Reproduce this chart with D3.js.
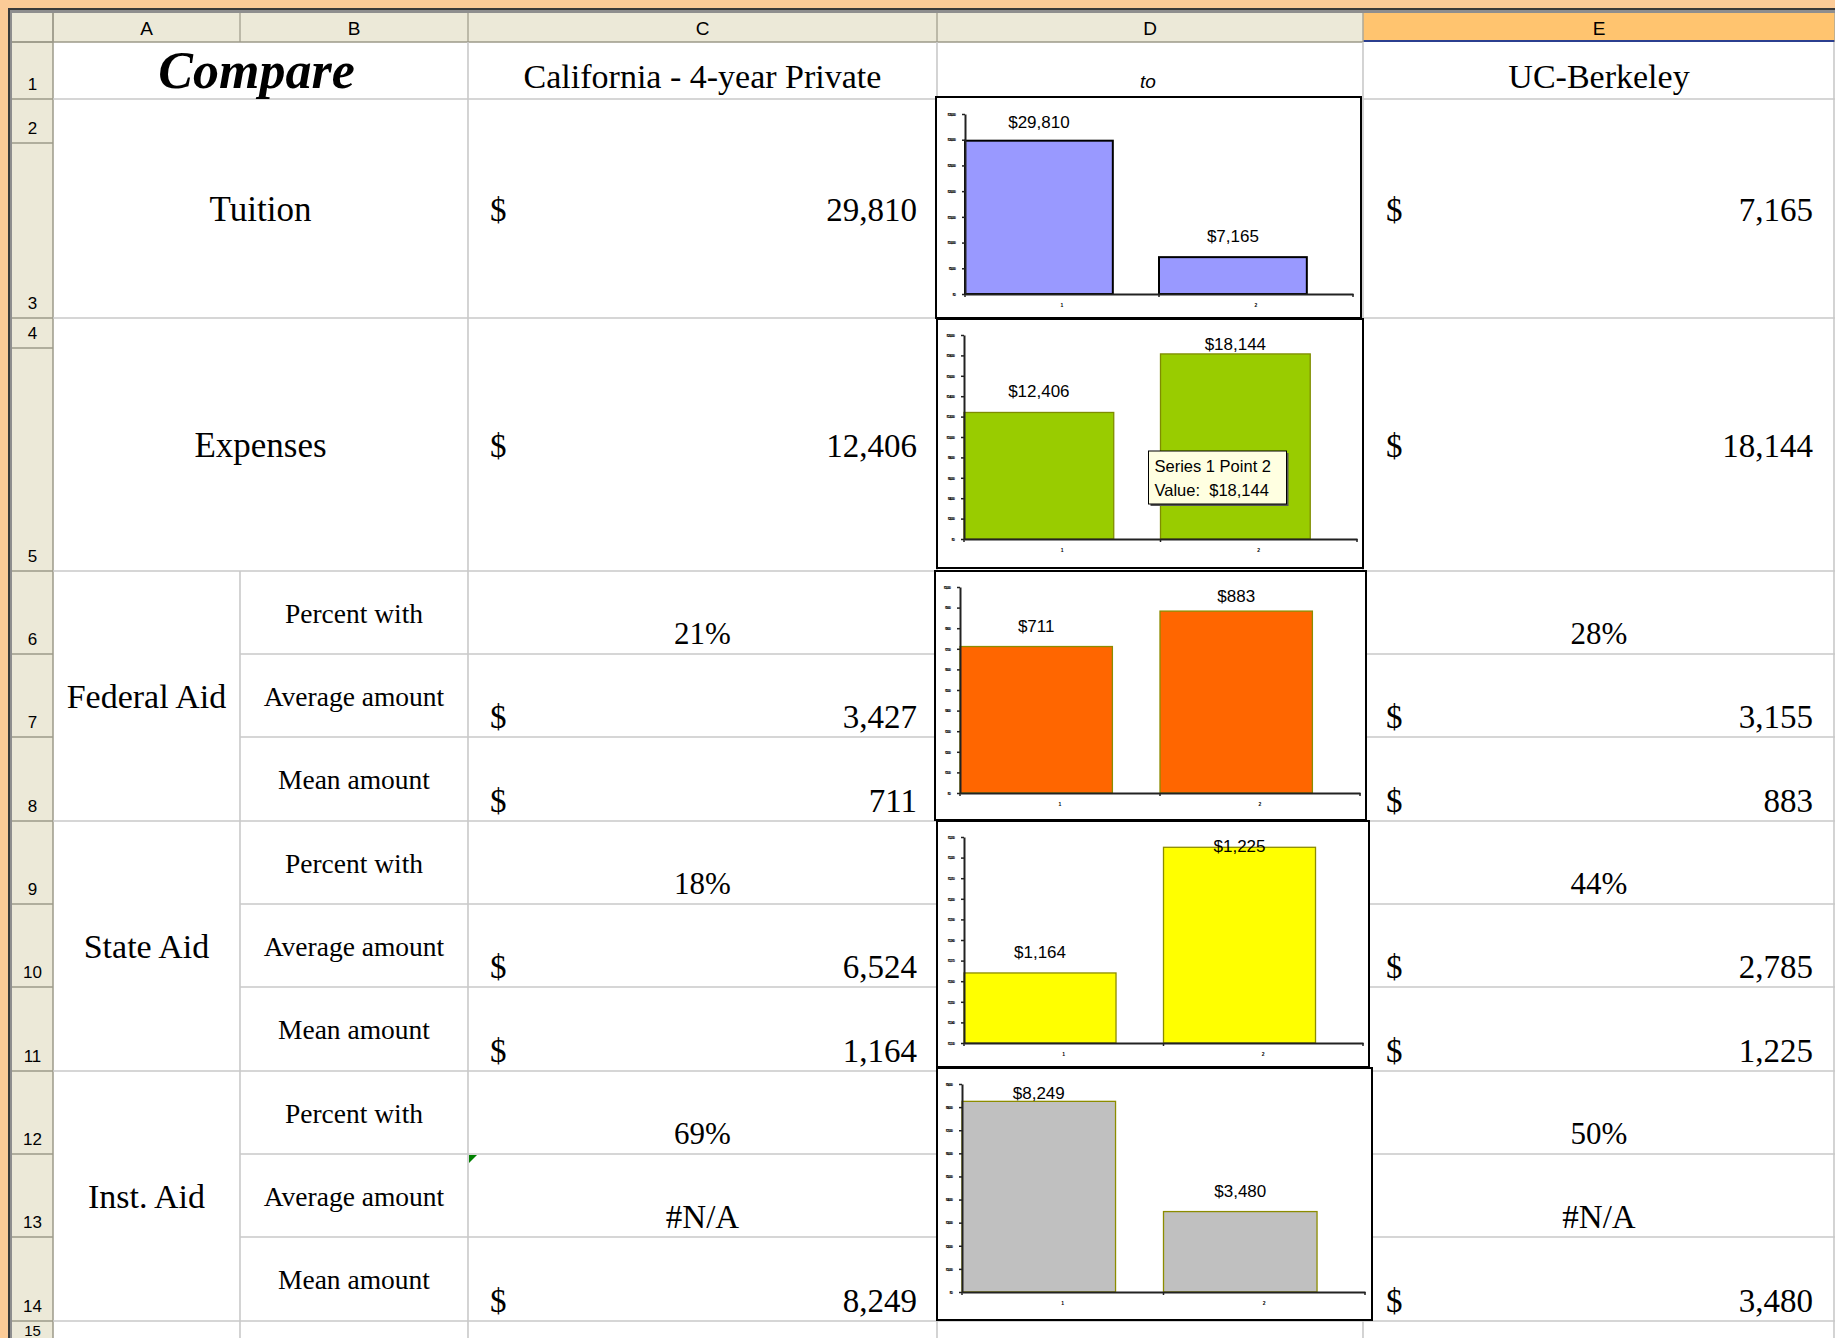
<!DOCTYPE html>
<html><head><meta charset="utf-8">
<script src="https://cdn.jsdelivr.net/npm/d3@7"></script>
<style>html,body{margin:0;padding:0;background:#fccb97;overflow:hidden}</style>
</head><body><svg id="c" width="1835" height="1338" xmlns="http://www.w3.org/2000/svg"></svg>
<script>
// ---------------- DATA ----------------
const columnLetters = ["A", "B", "C", "D", "E"];
const rowNumbers = d3.range(1, 16);
const titleText = "Compare";
const schoolA = "California - 4-year Private";
const connectorText = "to";
const schoolB = "UC-Berkeley";
const groups = ["Tuition", "Expenses", "Federal Aid", "State Aid", "Inst. Aid"];
const subRows = ["Percent with", "Average amount", "Mean amount"];
const privateCost = [29810, 12406];      // Tuition, Expenses
const berkeleyCost = [7165, 18144];
const privatePercent = [21, 18, 69];     // Federal, State, Inst.
const berkeleyPercent = [28, 44, 50];
const privateAverage = [3427, 6524, null];
const berkeleyAverage = [3155, 2785, null];
const privateMean = [711, 1164, 8249];
const berkeleyMean = [883, 1225, 3480];
const chartCategories = ["1", "2"];
const axisMin = [0, 0, 0, 1130, 0];
const axisMax = [35000, 20000, 1000, 1230, 9000];
const axisStep = [5000, 2000, 100, 10, 1000];
const barFill = ["#9999FF", "#99CC00", "#FF6600", "#FFFF00", "#C0C0C0"];
const barStroke = ["#000000", "#7F8C00", "#8C8C00", "#8C8C00", "#8C8C00"];
const tooltipTitle = "Series 1 Point 2";

// ---------------- LAYOUT ----------------
const W = 1835, H = 1338;
const colX = [53, 240, 468, 937, 1363, 1835];
const rowY = [42, 99, 143, 318, 348, 571, 654, 737, 821, 904, 987, 1071, 1154, 1237, 1321, 1347];
const serif = "'Liberation Serif', 'Times New Roman', serif";
const sans = "'Liberation Sans', Arial, sans-serif";
const fmtMoney = d3.format(",");
const fmtDollar = d3.format("$,");

const svg = d3.select("#c");

// window frame
svg.append("rect").attr("x", 0).attr("y", 0).attr("width", W).attr("height", H).attr("fill", "#fccb97");
svg.append("rect").attr("x", 8).attr("y", 8).attr("width", W).attr("height", H).attr("fill", "#3a3a3a");
svg.append("rect").attr("x", 10).attr("y", 10).attr("width", W).attr("height", H).attr("fill", "#8e8e8e");
svg.append("rect").attr("x", 12).attr("y", 13).attr("width", W).attr("height", H).attr("fill", "#ffffff");

// headers
svg.append("rect").attr("x", 12).attr("y", 13).attr("width", W).attr("height", 29).attr("fill", "#ECE9D8");
svg.append("rect").attr("x", 12).attr("y", 13).attr("width", 41).attr("height", H).attr("fill", "#ECE9D8");
svg.append("rect").attr("x", colX[4]).attr("y", 13).attr("width", colX[5] - colX[4]).attr("height", 29).attr("fill", "#FFC46F");
svg.append("line").attr("x1", colX[4]).attr("x2", colX[5]).attr("y1", 41).attr("y2", 41).attr("stroke", "#2B3F8F").attr("stroke-width", 2);

const hdr = svg.append("g");
colX.forEach(x => hdr.append("line").attr("x1", x).attr("x2", x).attr("y1", 13).attr("y2", 42).attr("stroke", "#ACA899").attr("stroke-width", 1.5));
hdr.append("line").attr("x1", 12).attr("x2", colX[4]).attr("y1", 42).attr("y2", 42).attr("stroke", "#9D9A8A").attr("stroke-width", 1.5);
rowY.forEach(y => hdr.append("line").attr("x1", 12).attr("x2", 53).attr("y1", y).attr("y2", y).attr("stroke", "#9D9A8A").attr("stroke-width", 1.5));
hdr.append("line").attr("x1", 53).attr("x2", 53).attr("y1", 13).attr("y2", H).attr("stroke", "#9D9A8A").attr("stroke-width", 1.5);

columnLetters.forEach((c, i) => {
  hdr.append("text").attr("x", (colX[i] + colX[i + 1]) / 2).attr("y", 35)
    .attr("text-anchor", "middle").attr("font-family", sans).attr("font-size", 19).attr("fill", "#000").text(c);
});
rowNumbers.forEach((n, i) => {
  const last = i === rowNumbers.length - 1;
  hdr.append("text").attr("x", 32.5).attr("y", last ? H - 2 : rowY[i + 1] - 9)
    .attr("text-anchor", "middle").attr("font-family", sans).attr("font-size", last ? 15 : 17).attr("fill", "#000").text(n);
});

// grid lines
const grid = svg.append("g").attr("stroke", "#C9C9C9").attr("stroke-width", 1.6);
[1, 3, 5, 8, 11, 14].forEach(i => grid.append("line").attr("x1", 53).attr("x2", W).attr("y1", rowY[i]).attr("y2", rowY[i]));
[6, 7, 9, 10, 12, 13].forEach(i => grid.append("line").attr("x1", colX[1]).attr("x2", W).attr("y1", rowY[i]).attr("y2", rowY[i]));
grid.append("line").attr("x1", colX[1]).attr("x2", colX[1]).attr("y1", rowY[5]).attr("y2", H);
[2, 3, 4].forEach(i => grid.append("line").attr("x1", colX[i]).attr("x2", colX[i]).attr("y1", 42).attr("y2", H));
grid.append("line").attr("x1", 1834).attr("x2", 1834).attr("y1", 42).attr("y2", H);

// cell text helper
const cells = svg.append("g").attr("fill", "#000");
function txt(x, y, s, size, anchor, extra) {
  const t = cells.append("text").attr("x", x).attr("y", y).attr("font-family", serif)
    .attr("font-size", size).attr("text-anchor", anchor || "middle").text(s);
  if (extra) extra(t);
  return t;
}
const cA = (colX[0] + colX[1]) / 2, cAB = (colX[0] + colX[2]) / 2, cB = (colX[1] + colX[2]) / 2;
const cC = (colX[2] + colX[3]) / 2, cD = (colX[3] + colX[4]) / 2, cE = (colX[4] + colX[5]) / 2;

txt(cAB - 4, 88, titleText, 52, "middle", t => t.attr("font-weight", "bold").attr("font-style", "italic"));
txt(cC, 88, schoolA, 34);
cells.append("text").attr("x", cD - 2).attr("y", 88).attr("font-family", sans).attr("font-style", "italic")
  .attr("font-size", 19).attr("text-anchor", "middle").text(connectorText);
txt(cE, 88, schoolB, 34);

function money(rowTop, rowBot, vA, vB, centered) {
  const base = centered ? (rowTop + rowBot) / 2 + 12 : rowBot - 9;
  if (vA == null) {
    txt(cC, base, "#N/A", 33);
  } else {
    txt(colX[2] + 22, base, "$", 33, "start");
    txt(colX[3] - 20, base, fmtMoney(vA), 33, "end");
  }
  if (vB == null) {
    txt(cE, base, "#N/A", 33);
  } else {
    txt(colX[4] + 23, base, "$", 33, "start");
    txt(colX[5] - 22, base, fmtMoney(vB), 33, "end");
  }
}

// Tuition & Expenses (merged rows)
[[1, 3], [3, 5]].forEach(([a, b], k) => {
  txt(cAB, (rowY[a] + rowY[b]) / 2 + 12, groups[k], 35);
  money(rowY[a], rowY[b], privateCost[k], berkeleyCost[k], true);
});

// Aid groups
[5, 8, 11].forEach((start, k) => {
  const top = rowY[start], bot = rowY[start + 3];
  txt(cA, (top + bot) / 2 + 12, groups[k + 2], 34);
  subRows.forEach((s, j) => {
    const rt = rowY[start + j], rb = rowY[start + j + 1];
    txt(cB, (rt + rb) / 2 + 10, s, 27.5);
  });
  const pb = rowY[start + 1];
  txt(cC, pb - 10, privatePercent[k] + "%", 31);
  txt(cE, pb - 10, berkeleyPercent[k] + "%", 31);
  money(rowY[start + 1], rowY[start + 2], privateAverage[k], berkeleyAverage[k], false);
  money(rowY[start + 2], rowY[start + 3], privateMean[k], berkeleyMean[k], false);
});

// green error triangle in C13
svg.append("path").attr("d", `M${colX[2] + 1},${rowY[12] + 1} l8,0 l-8,8 z`).attr("fill", "#008000");

// ---------------- CHARTS ----------------
const chartValuesA = [...privateCost, ...privateMean];
const chartValuesB = [...berkeleyCost, ...berkeleyMean];
const frames = [
  { l: 936, t: 97, r: 1361, b: 318 },
  { l: 937, t: 319, r: 1363, b: 568 },
  { l: 935, t: 571, r: 1366, b: 820 },
  { l: 937, t: 821, r: 1369, b: 1067 },
  { l: 937, t: 1068, r: 1372, b: 1320 }
];
const plots = [
  { l: 965, t: 114, r: 1353, b: 294 },
  { l: 964, t: 335, r: 1357, b: 539 },
  { l: 960, t: 587, r: 1360, b: 793 },
  { l: 964, t: 837, r: 1363, b: 1043 },
  { l: 962, t: 1084, r: 1365, b: 1292 }
];

groups.forEach((g, i) => {
  const f = frames[i], p = plots[i];
  const ch = svg.append("g");
  ch.append("rect").attr("x", f.l).attr("y", f.t).attr("width", f.r - f.l).attr("height", f.b - f.t)
    .attr("fill", "#fff").attr("stroke", "#000").attr("stroke-width", 2);

  const y = d3.scaleLinear().domain([axisMin[i], axisMax[i]]).range([p.b, p.t]);
  const x = d3.scaleBand().domain(chartCategories).range([p.l, p.r]).padding(0);
  const bw = x.bandwidth() * 0.762;
  const vals = [chartValuesA[i], chartValuesB[i]];

  ch.selectAll("rect.bar").data(vals).join("rect").attr("class", "bar")
    .attr("x", (d, j) => x(chartCategories[j]))
    .attr("y", d => y(d))
    .attr("width", bw)
    .attr("height", d => y(axisMin[i]) - y(d))
    .attr("fill", barFill[i])
    .attr("stroke", barStroke[i])
    .attr("stroke-width", i === 0 ? 2 : 1.3);

  // axes
  const ya = ch.append("g").attr("transform", `translate(${p.l},0)`)
    .call(d3.axisLeft(y).tickValues(d3.range(axisMin[i], axisMax[i] + axisStep[i] / 2, axisStep[i]))
      .tickSizeInner(3).tickSizeOuter(0).tickPadding(7).tickFormat(fmtDollar));
  ya.selectAll("text").attr("font-size", 4).attr("font-family", sans).attr("font-weight", "bold")
    .attr("letter-spacing", -1).attr("fill", "#000");
  ya.select(".domain").attr("stroke", "#222").attr("stroke-width", 2);
  ya.selectAll(".tick line").attr("stroke", "#222").attr("stroke-width", 1.5);

  const xa = ch.append("g").attr("transform", `translate(0,${p.b})`)
    .call(d3.axisBottom(x).tickSize(0).tickPadding(9));
  xa.selectAll("text").attr("font-size", 5).attr("font-family", sans).attr("font-weight", "bold").attr("fill", "#000");
  xa.select(".domain").attr("stroke", "#222").attr("stroke-width", 2);
  const bounds = chartCategories.map(c => x(c)).concat([p.r]);
  xa.selectAll("line.bnd").data(bounds).join("line").attr("class", "bnd")
    .attr("x1", d => d).attr("x2", d => d).attr("y1", 0).attr("y2", 3)
    .attr("stroke", "#222").attr("stroke-width", 1.5);

  // data labels
  ch.selectAll("text.lbl").data(vals).join("text").attr("class", "lbl")
    .attr("x", (d, j) => x(chartCategories[j]) + bw / 2)
    .attr("y", d => Math.max(y(d) - 15, f.t + 31))
    .attr("text-anchor", "middle").attr("font-family", sans).attr("font-size", 17)
    .attr("fill", "#000").text(d => fmtDollar(d));

  // tooltip on Expenses, point 2
  if (i === 1) {
    const bx = x(chartCategories[1]) - 12, by = f.t + 132, tw = 138, th = 53;
    ch.append("rect").attr("x", bx + 2).attr("y", by + 2).attr("width", tw).attr("height", th).attr("fill", "#555");
    ch.append("rect").attr("x", bx).attr("y", by).attr("width", tw).attr("height", th)
      .attr("fill", "#FFFFE1").attr("stroke", "#000").attr("stroke-width", 1);
    ch.append("text").attr("x", bx + 6).attr("y", by + 21).attr("font-family", sans).attr("font-size", 16.5)
      .attr("fill", "#000").text(tooltipTitle);
    ch.append("text").attr("x", bx + 6).attr("y", by + 45).attr("font-family", sans).attr("font-size", 16.5)
      .attr("fill", "#000").attr("xml:space", "preserve").style("white-space", "pre")
      .text("Value:  " + fmtDollar(vals[1]));
  }
});
</script></body></html>
